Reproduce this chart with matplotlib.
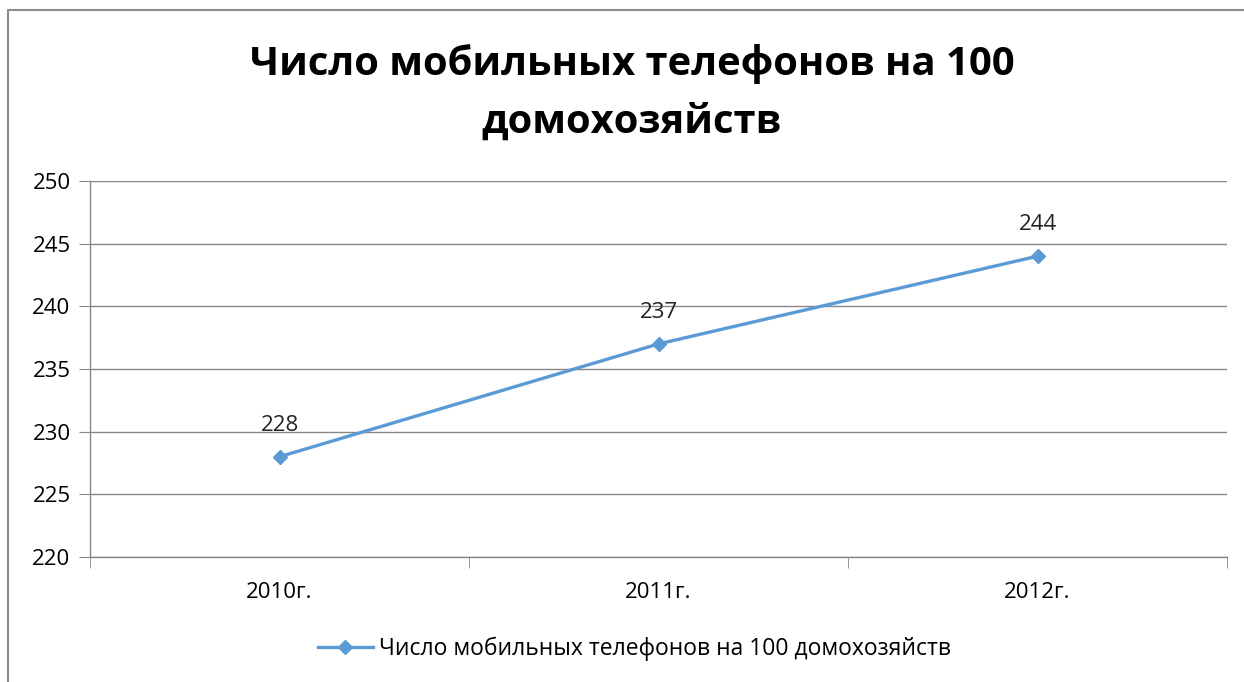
import matplotlib
matplotlib.use("Agg")
import matplotlib.pyplot as plt
from matplotlib.lines import Line2D

plt.rcParams['font.family'] = ['Open Sans', 'DejaVu Sans']

years = ['2010г.', '2011г.', '2012г.']
phones = [228, 237, 244]
series_name = 'Число мобильных телефонов на 100 домохозяйств'
title = 'Число мобильных телефонов на 100\nдомохозяйств'

blue = '#5B9BD5'
grid_gray = '#878787'

fig = plt.figure(figsize=(12.44, 6.82), dpi=100, facecolor='white')
ax = fig.add_axes([90 / 1244, 1 - 557 / 682, (1227 - 90) / 1244, (557 - 181) / 682])

x = list(range(len(years)))
ax.plot(x, phones, color=blue, lw=2.4, marker='D', ms=7, label=series_name)
for xi, v in zip(x, phones):
    ax.annotate(str(v), (xi, v), xytext=(0, 15), textcoords='offset points',
                ha='center', va='bottom', fontsize=16, color='#222222')

ax.set_xlim(-0.5, len(years) - 0.5)
ax.set_ylim(220, 250)
ax.set_yticks(range(220, 251, 5))
ax.set_xticks(x)
ax.set_xticklabels(years)
ax.set_xticks([i - 0.5 for i in range(len(years) + 1)], minor=True)
ax.tick_params(axis='x', which='major', length=0, pad=18, labelsize=16)
ax.tick_params(axis='x', which='minor', length=8, color=grid_gray, direction='out')
ax.tick_params(axis='y', length=8, color=grid_gray, labelsize=16, pad=6)
ax.grid(axis='y', color=grid_gray, lw=1)
ax.set_axisbelow(True)
for s in ['top', 'right']:
    ax.spines[s].set_visible(False)
for s in ['left', 'bottom']:
    ax.spines[s].set_color(grid_gray)
    ax.spines[s].set_linewidth(1)

fig.text(0.508, 1 - 93 / 682, title, ha='center', va='center', fontsize=28.8,
         fontweight='bold', linespacing=1.6)

fig.legend(loc='center', bbox_to_anchor=(0.51, 1 - 649 / 682), frameon=False,
           fontsize=16.5, handlelength=2.4, handletextpad=0.3)

# chart-area frame (only top and left edges visible in the crop)
fig.add_artist(Line2D([8 / 1244, 8 / 1244, 1], [0, 1 - 10 / 682, 1 - 10 / 682],
                      transform=fig.transFigure, color='#8c8c8c', lw=1.5))

fig.savefig('out.png', dpi=100, facecolor='white')
